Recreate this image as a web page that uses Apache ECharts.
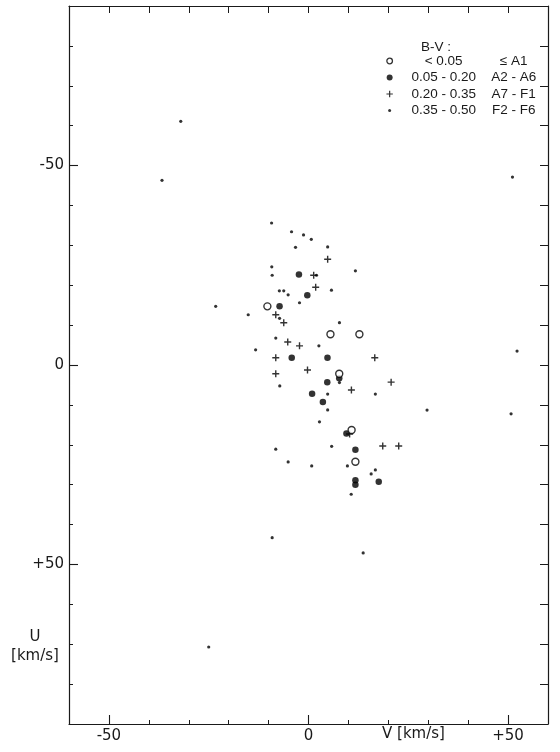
<!DOCTYPE html>
<html><head><meta charset="utf-8">
<script src="https://cdn.jsdelivr.net/npm/echarts@6/dist/echarts.min.js"></script>
<style>html,body{margin:0;padding:0;background:#fff}#c{width:560px;height:752px}</style>
</head><body><div id="c"></div>
<script>
// ---- data: [V, U] in km/s ----
const bvRanges = ['< 0.05', '0.05 - 0.20', '0.20 - 0.35', '0.35 - 0.50'];
const spectralTypes = ['\u2264 A1', 'A2 - A6', 'A7 - F1', 'F2 - F6'];

const openCircleStars = [
  [-10.3, -14.7], [5.5, -7.7], [12.75, -7.7], [7.7, 2.2], [10.8, 16.3], [11.75, 24.25]
];
const filledCircleStars = [
  [-2.4, -22.7], [-0.3, -17.5], [-7.25, -14.7], [-4.2, -1.8], [4.75, -1.8], [7.7, 3.3],
  [4.7, 4.3], [0.9, 7.2], [3.6, 9.25], [9.5, 17.2], [11.75, 21.25], [11.75, 28.9],
  [11.75, 30.0], [17.6, 29.25]
];
const plusStars = [
  [1.3, -22.5], [4.8, -26.5], [1.8, -19.5], [-8.2, -12.6], [-6.2, -10.6], [-5.2, -5.75],
  [-2.25, -4.8], [-8.2, -1.8], [16.6, -1.8], [-8.2, 2.2], [-0.25, 1.25], [10.75, 6.25],
  [20.7, 4.3], [10.3, 17.3], [18.6, 20.3], [22.6, 20.3]
];
const dotStars = [
  [-9.25, -35.6], [-4.25, -33.4], [-1.25, -32.6], [0.7, -31.5], [-3.25, -29.5], [4.8, -29.6],
  [-9.2, -24.6], [-9.1, -22.5], [2.0, -22.5], [11.75, -23.6], [-7.3, -18.6], [-6.2, -18.6],
  [-5.1, -17.6], [5.75, -18.75], [-2.25, -15.6], [-23.25, -14.7], [-15.1, -12.6], [-7.25, -11.7],
  [7.75, -10.6], [-8.2, -6.75], [2.6, -4.8], [-13.25, -3.8], [-7.2, 5.25], [7.75, 4.4],
  [4.8, 7.3], [16.75, 7.3], [4.8, 11.25], [29.7, 11.3], [2.75, 14.25], [5.8, 20.4],
  [-8.2, 21.1], [-5.1, 24.3], [0.8, 25.3], [9.75, 25.3], [16.75, 26.3], [15.7, 27.3],
  [10.7, 32.4], [-9.1, 43.3], [13.7, 47.1], [-25.0, 70.7], [-32.0, -61.1], [-36.7, -46.3],
  [51.1, -47.1], [52.25, -3.5], [50.75, 12.25]
];

const axisMin = -60, axisMax = 60;     // V
const uMin = -90, uMax = 90;           // U
const tickStep = 10;
const majorTicks = [-50, 0, 50];
const tickLabels = { '-50': '-50', '0': '0', '50': '+50' };

// ---- styling ----
const INK = '#1a1a1a';
const AXIS_FONT = 'DejaVu Sans';
const LEG_FONT = 'Liberation Sans';
const plusPath = 'path://M-0.2,-1 L0.2,-1 L0.2,-0.2 L1,-0.2 L1,0.2 L0.2,0.2 L0.2,1 L-0.2,1 L-0.2,0.2 L-1,0.2 L-1,-0.2 L-0.2,-0.2 Z';
const legIcons = [
  'path://M-4,-4 M4,4 M2.8,0 A2.8,2.8 0 1 1 -2.8,0 A2.8,2.8 0 1 1 2.8,0 Z',
  'path://M-4,-4 M4,4 M3,0 A3,3 0 1 1 -3,0 A3,3 0 1 1 3,0 Z',
  'path://M-4,-4 M4,4 M-0.6,-3.2 L0.6,-3.2 L0.6,-0.6 L3.2,-0.6 L3.2,0.6 L0.6,0.6 L0.6,3.2 L-0.6,3.2 L-0.6,0.6 L-3.2,0.6 L-3.2,-0.6 L-0.6,-0.6 Z',
  'path://M-4,-4 M4,4 M1.5,0 A1.5,1.5 0 1 1 -1.5,0 A1.5,1.5 0 1 1 1.5,0 Z'
];

const lineStyle = { color: INK, width: 1.2 };
function mkX(pos, extra) {
  return Object.assign({
    type: 'value', position: pos, min: axisMin, max: axisMax, interval: tickStep,
    axisLine: { show: true, onZero: false, lineStyle },
    axisTick: { show: true, inside: true, length: 6, lineStyle: { color: INK, width: 1 } },
    axisLabel: { show: false },
    splitLine: { show: false }
  }, extra);
}
function mkY(pos, extra) {
  return Object.assign({
    type: 'value', position: pos, min: uMin, max: uMax, interval: tickStep, inverse: true,
    axisLine: { show: true, onZero: false, lineStyle },
    axisTick: { show: true, inside: true, length: 6, lineStyle: { color: INK, width: 1 } },
    axisLabel: { show: false },
    splitLine: { show: false }
  }, extra);
}
const labelStyle = { show: true, fontSize: 15, color: INK, fontFamily: AXIS_FONT, margin: 5,
  formatter: v => (tickLabels[String(v)] !== undefined ? tickLabels[String(v)] : '') };

const chart = echarts.init(document.getElementById('c'), null, { renderer: 'canvas' });
chart.setOption({
  animation: false,
  backgroundColor: '#fff',
  textStyle: { fontFamily: AXIS_FONT },
  grid: { left: 69, right: 12, top: 6, bottom: 28, containLabel: false },
  title: {
    text: 'B-V :', left: 421, top: 40, padding: 0,
    textStyle: { fontSize: 13.5, fontWeight: 'normal', fontFamily: LEG_FONT, color: INK }
  },
  legend: {
    orient: 'vertical', left: 385, top: 54, padding: 0, itemGap: 2.5,
    itemWidth: 8, itemHeight: 8, selectedMode: false,
    data: bvRanges.map((n, i) => ({
      name: n, icon: legIcons[i],
      itemStyle: i === 0 ? { color: '#fff', borderColor: '#000', borderWidth: 1.3 } : { color: '#000', borderWidth: 0 }
    })),
    formatter: name => {
      const i = bvRanges.indexOf(name);
      return '{a|' + bvRanges[i] + '}{b|' + spectralTypes[i] + '}';
    },
    textStyle: {
      fontFamily: LEG_FONT, fontSize: 13.5, color: INK,
      rich: {
        a: { width: 90, align: 'center', fontFamily: LEG_FONT, fontSize: 13.5, color: INK, lineHeight: 14 },
        b: { width: 50, align: 'center', fontFamily: LEG_FONT, fontSize: 13.5, color: INK, lineHeight: 14 }
      }
    }
  },
  xAxis: [
    mkX('bottom', { axisTick: { show: true, inside: true, length: 4, lineStyle: { color: INK, width: 1 } }, axisLabel: labelStyle }),
    mkX('bottom', { interval: undefined, axisLine: { show: false, onZero: false },
      axisTick: { show: true, inside: true, length: 9, customValues: majorTicks, lineStyle: { color: INK, width: 1.1 } } }),
    mkX('top', { axisTick: { show: true, inside: true, length: 7, lineStyle: { color: INK, width: 1 } } })
  ],
  yAxis: [
    mkY('left', { axisTick: { show: true, inside: true, length: 4, lineStyle: { color: INK, width: 1 } }, axisLabel: labelStyle }),
    mkY('left', { interval: undefined, axisLine: { show: false, onZero: false },
      axisTick: { show: true, inside: true, length: 9, customValues: majorTicks, lineStyle: { color: INK, width: 1.1 } } }),
    mkY('right', { axisTick: { show: true, inside: true, length: 8, lineStyle: { color: INK, width: 1 } } })
  ],
  graphic: [
    { type: 'text', left: 382, top: 727, style: { text: 'V [km/s]', font: '15px "DejaVu Sans"', fill: INK } },
    { type: 'text', x: 35, y: 647, style: { text: 'U\n[km/s]', font: '15px "DejaVu Sans"', fill: INK, align: 'center', verticalAlign: 'middle', lineHeight: 19 } }
  ],
  series: [
    { name: bvRanges[0], type: 'scatter', data: openCircleStars, symbol: 'circle', symbolSize: 7,
      itemStyle: { color: '#fff', borderColor: '#000', borderWidth: 1.4 }, z: 4 },
    { name: bvRanges[1], type: 'scatter', data: filledCircleStars, symbol: 'circle', symbolSize: 6.5,
      itemStyle: { color: '#000' }, z: 3 },
    { name: bvRanges[2], type: 'scatter', data: plusStars, symbol: plusPath, symbolSize: 7,
      itemStyle: { color: '#000' }, z: 3 },
    { name: bvRanges[3], type: 'scatter', data: dotStars, symbol: 'circle', symbolSize: 3.2,
      itemStyle: { color: '#000' }, z: 2 }
  ]
});
</script>
</body></html>
